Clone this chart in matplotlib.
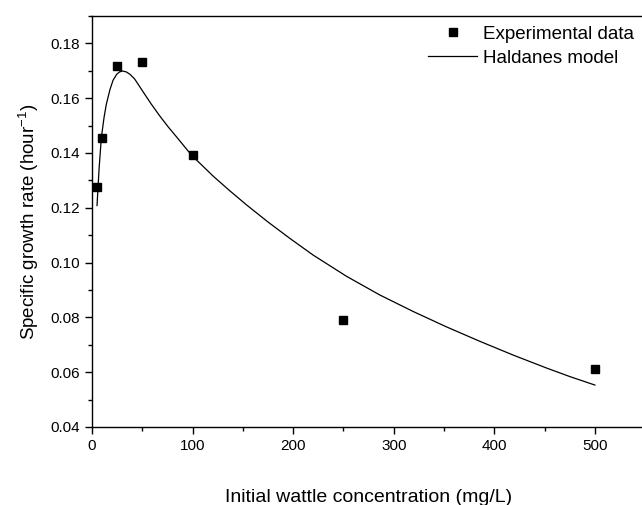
import matplotlib
matplotlib.use("Agg")
import matplotlib.pyplot as plt
from matplotlib.ticker import MultipleLocator, FormatStrFormatter

plt.rcParams["font.family"] = ["Liberation Sans", "DejaVu Sans"]
plt.rcParams["mathtext.fontset"] = "custom"
plt.rcParams["mathtext.rm"] = "Liberation Sans"

# experimental data
conc = [5, 10, 25, 50, 100, 250, 500]
rate = [0.1277, 0.1453, 0.1716, 0.1733, 0.1394, 0.0791, 0.0612]

# Haldane model curve
model_s = [5, 7, 9.3, 12, 14.2, 17.9, 20.9, 24.5, 27.5, 30.5, 34, 37.8, 42.4, 51, 59,
           67.6, 76, 84.2, 95.8, 104, 120.6, 137, 153.8, 175, 196.8, 220, 253, 286,
           319, 352, 386, 419, 452, 475, 500]
model_mu = [0.1208, 0.1340, 0.1456, 0.1530, 0.1577, 0.1632, 0.1665, 0.1687, 0.1696, 0.1699,
            0.1696, 0.1687, 0.1670, 0.1622, 0.1578, 0.1534, 0.1494, 0.1458, 0.1406, 0.1374,
            0.1315, 0.1262, 0.1210, 0.1148, 0.1088, 0.1027, 0.0950, 0.0882, 0.0822, 0.0766,
            0.0712, 0.0662, 0.0615, 0.0584, 0.0553]

fig = plt.figure(figsize=(6.42, 5.05), dpi=100)
ax = fig.add_axes([0.1433, 0.1545, 0.8617, 0.8139])

ax.plot(model_s, model_mu, color="black", lw=0.9, label="Haldanes model")
ax.plot(conc, rate, ls="none", marker="s", ms=5.5, color="black", label="Experimental data")

ax.set_xlim(0, 550)
ax.set_ylim(0.04, 0.19)
ax.xaxis.set_major_locator(MultipleLocator(100))
ax.xaxis.set_minor_locator(MultipleLocator(50))
ax.yaxis.set_major_locator(MultipleLocator(0.02))
ax.yaxis.set_minor_locator(MultipleLocator(0.01))
ax.yaxis.set_major_formatter(FormatStrFormatter("%.2f"))
ax.tick_params(which="both", direction="out", top=False, right=False, labelsize=11)
ax.tick_params(which="major", length=5, width=1)
ax.tick_params(which="minor", length=3, width=1)
for sp in ax.spines.values():
    sp.set_linewidth(1)

ax.set_xlabel("Initial wattle concentration (mg/L)", fontsize=14, labelpad=26)
ax.set_ylabel(r"Specific growth rate (hour$^{\mathrm{-1}}$)", fontsize=13.5, labelpad=7)

h, l = ax.get_legend_handles_labels()
ax.legend(h[::-1], l[::-1], loc="upper left", bbox_to_anchor=(0.6076, 0.976),
          frameon=False, fontsize=13.5, handlelength=2.61, handletextpad=0.32,
          labelspacing=0.35, borderpad=0, borderaxespad=0)

fig.savefig("out.png", dpi=100)
